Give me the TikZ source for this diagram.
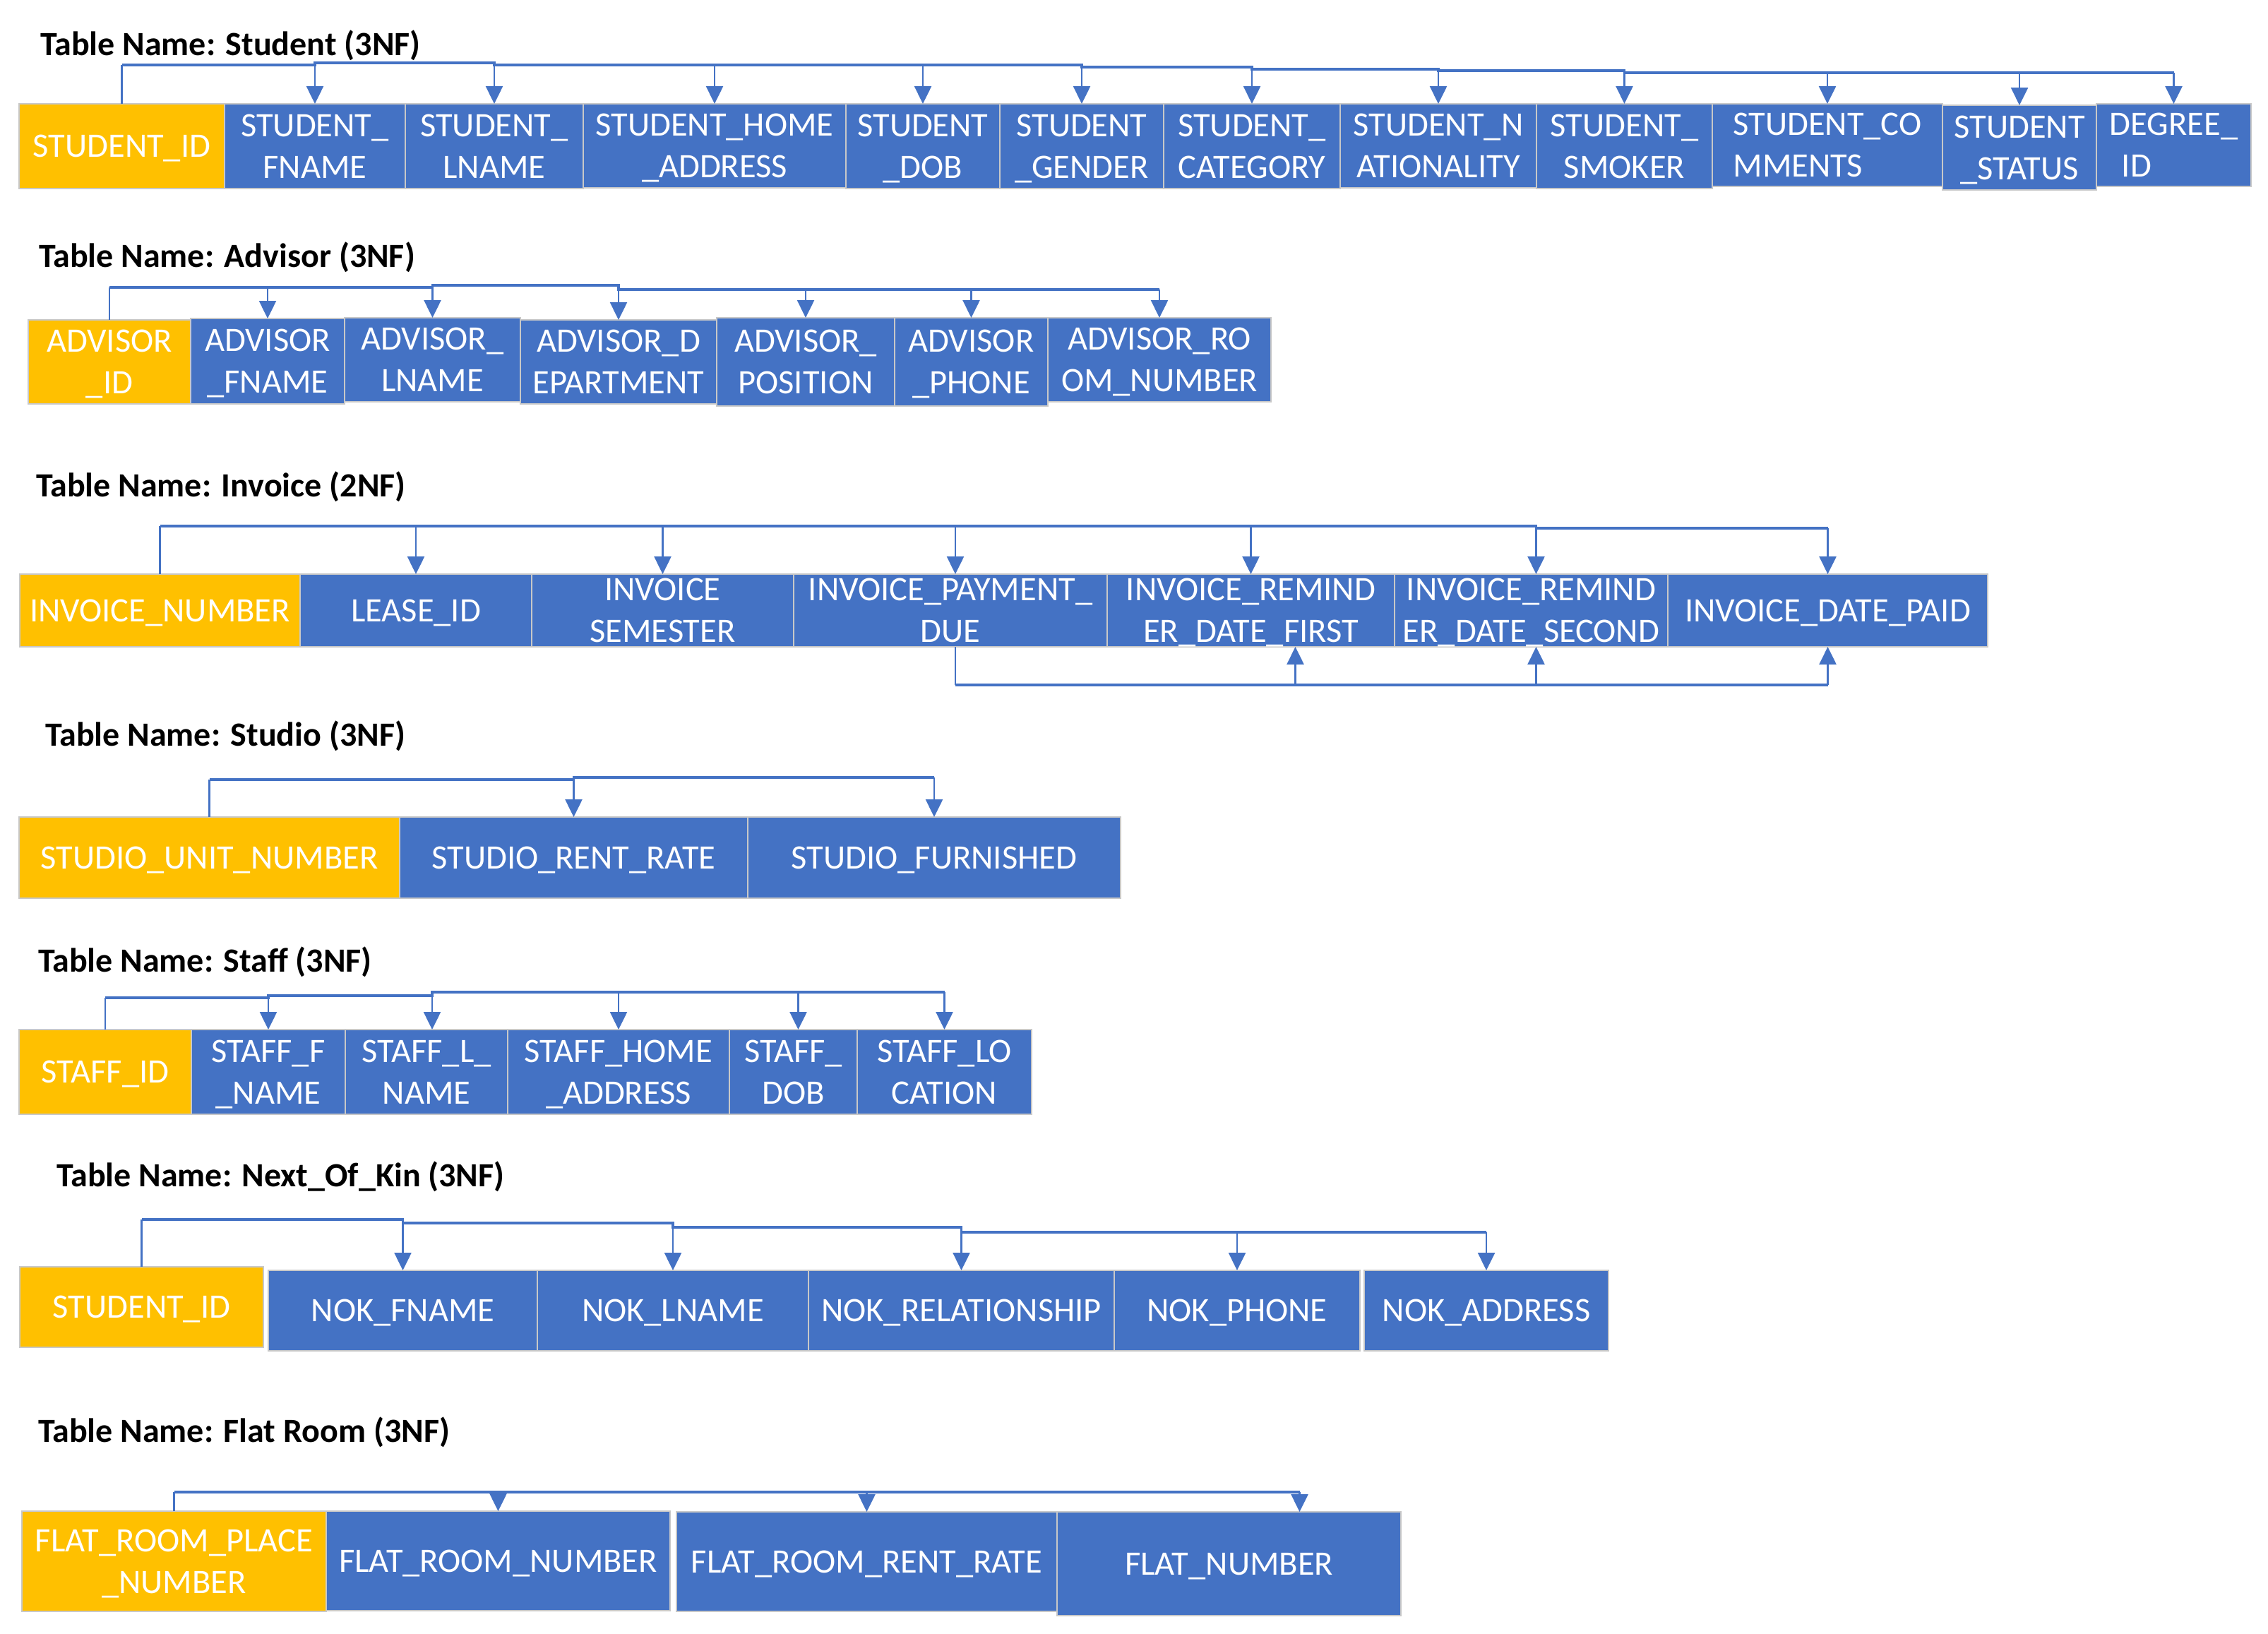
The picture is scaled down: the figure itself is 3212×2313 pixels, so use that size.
\documentclass[tikz,border=0pt]{standalone}
\usepackage{fontspec}
\setmainfont{Carlito}
\usetikzlibrary{arrows.meta}

\definecolor{keyfill}{HTML}{FFC000}
\definecolor{attrfill}{HTML}{4472C4}
\definecolor{cellrule}{HTML}{C8C8C8}
\definecolor{linkcol}{HTML}{4472C4}

\newcommand\tblCellFont{\fontsize{48.5}{59}\selectfont}
\newcommand\tblTitleFont{\fontsize{48}{58}\selectfont\bfseries}

% \cell{name}{style}{x1}{y1}{x2}{y2}{text}: a table cell given by its corners
\newcommand\cell[7]{%
  \node[#2, minimum width={(#5-#3)*1pt}, minimum height={(#6-#4)*1pt},
        anchor=north west] (#1) at (#3,#4) {#7};}

\begin{document}
\begin{tikzpicture}[x=1pt, y=-1pt,
  cellbase/.style={draw=cellrule, line width=2pt, inner sep=0pt, outer sep=0pt,
                   text=white, font=\tblCellFont, align=center, text depth=0pt},
  keycell/.style={cellbase, fill=keyfill},
  attrcell/.style={cellbase, fill=attrfill},
  tbltitle/.style={anchor=base west, inner sep=0pt, font=\tblTitleFont},
  bus/.style={draw=linkcol, line width=3.5pt},
  stem/.style={draw=linkcol, line width=2.5pt},
  drop/.style={draw=linkcol, line width=2.5pt, -{Triangle[width=24pt,length=25pt]}}]

\fill[white] (0,0) rectangle (3212,2313);
\useasboundingbox (0,0) rectangle (3212,2313);

% ---------------- Student ----------------
\node[tbltitle] (tStudent) at (57,78) {Table Name: Student (3NF)};
\cell{sid}{keycell}{27}{147}{318}{267}{STUDENT\_ID}
\cell{sfn}{attrcell}{318}{147}{574}{267}{STUDENT\_\\FNAME}
\cell{sln}{attrcell}{574}{147}{826}{267}{STUDENT\_\\LNAME}
\cell{sha}{attrcell}{826}{147}{1198}{266}{STUDENT\_HOME\\\_ADDRESS}
\cell{sdob}{attrcell}{1198}{147}{1416}{267}{STUDENT\\\_DOB}
\cell{sgen}{attrcell}{1416}{147}{1648}{267}{STUDENT\\\_GENDER}
\cell{scat}{attrcell}{1648}{147}{1898}{267}{STUDENT\_\\CATEGORY}
\cell{snat}{attrcell}{1898}{147}{2176}{266}{STUDENT\_N\\ATIONALITY}
\cell{ssmk}{attrcell}{2176}{147}{2425}{267}{STUDENT\_\\SMOKER}
\cell{scom}{attrcell,align=left}{2425}{147}{2751}{264}{STUDENT\_CO\\MMENTS}
\cell{ssta}{attrcell}{2751}{149}{2969}{269}{STUDENT\\\_STATUS}
\cell{sdeg}{attrcell,align=left}{2969}{147}{3188}{264}{DEGREE\_\\\hspace*{0.35em}ID}

\coordinate (sL0) at (0,92);
\coordinate (sL1) at (0,89);
\coordinate (sL2) at (0,95);
\coordinate (sL3) at (0,98);
\coordinate (sL4) at (0,100);
\coordinate (sL5) at (0,103);
\draw[stem] (sid.north) -- (sid.north |- sL0);
\draw[bus] (sid.north |- sL0) -- (sfn.north |- sL0) -- (sfn.north |- sL1)
  -- (sln.north |- sL1) -- (sln.north |- sL0) -- (sgen.north |- sL0)
  -- (sgen.north |- sL2) -- (scat.north |- sL2) -- (scat.north |- sL3)
  -- (snat.north |- sL3) -- (snat.north |- sL4) -- (ssmk.north |- sL4)
  -- (ssmk.north |- sL5) -- (sdeg.north |- sL5);
\draw[drop] (sfn.north |- sL1) -- (sfn.north);
\draw[drop] (sln.north |- sL1) -- (sln.north);
\draw[drop] (sha.north |- sL0) -- (sha.north);
\draw[drop] (sdob.north |- sL0) -- (sdob.north);
\draw[drop] (sgen.north |- sL2) -- (sgen.north);
\draw[drop] (scat.north |- sL3) -- (scat.north);
\draw[drop] (snat.north |- sL4) -- (snat.north);
\draw[drop] (ssmk.north |- sL5) -- (ssmk.north);
\draw[drop] (scom.north |- sL5) -- (scom.north);
\draw[drop] (ssta.north |- sL5) -- (ssta.north);
\draw[drop] (sdeg.north |- sL5) -- (sdeg.north);

% ---------------- Advisor ----------------
\node[tbltitle] (tAdvisor) at (55,378) {Table Name: Advisor (3NF)};
\cell{aid}{keycell}{40}{453}{270}{572}{ADVISOR\\\_ID}
\cell{afn}{attrcell}{270}{451}{488}{572}{ADVISOR\\\_FNAME}
\cell{aln}{attrcell}{488}{450}{737}{569}{ADVISOR\_\\LNAME}
\cell{adep}{attrcell}{737}{453}{1015}{572}{ADVISOR\_D\\EPARTMENT}
\cell{apos}{attrcell}{1015}{450}{1267}{575}{ADVISOR\_\\POSITION}
\cell{aph}{attrcell}{1267}{450}{1484}{575}{ADVISOR\\\_PHONE}
\cell{arm}{attrcell}{1484}{450}{1800}{569}{ADVISOR\_RO\\OM\_NUMBER}

\coordinate (aL0) at (0,407);
\coordinate (aL1) at (0,404);
\coordinate (aL2) at (0,410);
\draw[stem] (aid.north) -- (aid.north |- aL0);
\draw[bus] (aid.north |- aL0) -- (aln.north |- aL0) -- (aln.north |- aL1)
  -- (adep.north |- aL1) -- (adep.north |- aL2) -- (arm.north |- aL2);
\draw[drop] (afn.north |- aL0) -- (afn.north);
\draw[drop] (aln.north |- aL1) -- (aln.north);
\draw[drop] (adep.north |- aL2) -- (adep.north);
\draw[drop] (apos.north |- aL2) -- (apos.north);
\draw[drop] (aph.north |- aL2) -- (aph.north);
\draw[drop] (arm.north |- aL2) -- (arm.north);

% ---------------- Invoice ----------------
\node[tbltitle] (tInvoice) at (51,703) {Table Name: Invoice (2NF)};
\cell{inum}{keycell}{28}{813}{425}{916}{INVOICE\_NUMBER}
\cell{ils}{attrcell}{425}{813}{753}{916}{LEASE\_ID}
\cell{isem}{attrcell}{753}{813}{1124}{916}{INVOICE\\SEMESTER}
\cell{idue}{attrcell}{1124}{813}{1568}{916}{INVOICE\_PAYMENT\_\\DUE}
\cell{ifst}{attrcell}{1568}{813}{1975}{916}{INVOICE\_REMIND\\ER\_DATE\_FIRST}
\cell{isec}{attrcell}{1975}{813}{2362}{916}{INVOICE\_REMIND\\ER\_DATE\_SECOND}
\cell{ipd}{attrcell}{2362}{813}{2815}{916}{INVOICE\_DATE\_PAID}

\coordinate (iL0) at (0,745);
\coordinate (iL1) at (0,748);
\coordinate (iLb) at (0,970);
\coordinate (idueT) at ([xshift=7pt]idue.north);
\coordinate (idueB) at ([xshift=7pt]idue.south);
\coordinate (isecT) at ([xshift=7pt]isec.north);
\coordinate (isecB) at ([xshift=7pt]isec.south);
\coordinate (ifstB) at ([xshift=63pt]ifst.south);
\draw[stem] (inum.north) -- (inum.north |- iL0);
\draw[bus] (inum.north |- iL0) -- (isecT |- iL0) -- (isecT |- iL1) -- (ipd.north |- iL1);
\draw[drop] (ils.north |- iL0) -- (ils.north);
\draw[drop] (isem.north |- iL0) -- (isem.north);
\draw[drop] (idueT |- iL0) -- (idueT);
\draw[drop] (ifst.north |- iL0) -- (ifst.north);
\draw[drop] (isecT |- iL1) -- (isecT);
\draw[drop] (ipd.north |- iL1) -- (ipd.north);
% dependencies on the payment due date
\draw[stem] (idueB) -- (idueB |- iLb);
\draw[bus] (idueB |- iLb) -- (ipd.south |- iLb);
\draw[drop] (ifstB |- iLb) -- (ifstB);
\draw[drop] (isecB |- iLb) -- (isecB);
\draw[drop] (ipd.south |- iLb) -- (ipd.south);

% ---------------- Studio ----------------
\node[tbltitle] (tStudio) at (64,1056) {Table Name: Studio (3NF)};
\cell{tun}{keycell}{27}{1157}{566}{1272}{STUDIO\_UNIT\_NUMBER}
\cell{trr}{attrcell}{566}{1157}{1059}{1272}{STUDIO\_RENT\_RATE}
\cell{tfu}{attrcell}{1059}{1157}{1587}{1272}{STUDIO\_FURNISHED}

\coordinate (tL0) at (0,1104);
\coordinate (tL1) at (0,1101);
\draw[stem] (tun.north) -- (tun.north |- tL0);
\draw[bus] (tun.north |- tL0) -- (trr.north |- tL0) -- (trr.north |- tL1) -- (tfu.north |- tL1);
\draw[drop] (trr.north |- tL1) -- (trr.north);
\draw[drop] (tfu.north |- tL1) -- (tfu.north);

% ---------------- Staff ----------------
\node[tbltitle] (tStaff) at (54,1376) {Table Name: Staff (3NF)};
\cell{fid}{keycell}{27}{1458}{271}{1578}{STAFF\_ID}
\cell{ffn}{attrcell}{271}{1458}{489}{1578}{STAFF\_F\\\_NAME}
\cell{fln}{attrcell}{489}{1458}{719}{1578}{STAFF\_L\_\\NAME}
\cell{fha}{attrcell}{719}{1458}{1033}{1578}{STAFF\_HOME\\\_ADDRESS}
\cell{fdob}{attrcell}{1033}{1458}{1214}{1578}{STAFF\_\\DOB}
\cell{floc}{attrcell}{1214}{1458}{1461}{1578}{STAFF\_LO\\CATION}

\coordinate (fL0) at (0,1413);
\coordinate (fL1) at (0,1410);
\coordinate (fL2) at (0,1405);
\coordinate (flnT) at ([xshift=8pt]fln.north);
\coordinate (fdobT) at ([xshift=7pt]fdob.north);
\draw[stem] (fid.north) -- (fid.north |- fL0);
\draw[bus] (fid.north |- fL0) -- (ffn.north |- fL0) -- (ffn.north |- fL1)
  -- (flnT |- fL1) -- (flnT |- fL2) -- (floc.north |- fL2);
\draw[drop] (ffn.north |- fL1) -- (ffn.north);
\draw[drop] (flnT |- fL2) -- (flnT);
\draw[drop] (fha.north |- fL2) -- (fha.north);
\draw[drop] (fdobT |- fL2) -- (fdobT);
\draw[drop] (floc.north |- fL2) -- (floc.north);

% ---------------- Next_Of_Kin ----------------
\node[tbltitle] (tNok) at (80,1680) {Table Name: Next\_Of\_Kin (3NF)};
\cell{nid}{keycell}{28}{1794}{373}{1908}{STUDENT\_ID}
\cell{nfn}{attrcell}{380}{1799}{761}{1913}{NOK\_FNAME}
\cell{nln}{attrcell}{761}{1799}{1145}{1913}{NOK\_LNAME}
\cell{nrel}{attrcell}{1145}{1799}{1578}{1913}{NOK\_RELATIONSHIP}
\cell{nph}{attrcell}{1578}{1799}{1926}{1913}{NOK\_PHONE}
\cell{nadr}{attrcell}{1932}{1799}{2278}{1913}{NOK\_ADDRESS}

\coordinate (nL0) at (0,1727);
\coordinate (nL1) at (0,1732);
\coordinate (nL2) at (0,1738);
\coordinate (nL3) at (0,1745);
\draw[stem] (nid.north) -- (nid.north |- nL0);
\draw[bus] (nid.north |- nL0) -- (nfn.north |- nL0) -- (nfn.north |- nL1)
  -- (nln.north |- nL1) -- (nln.north |- nL2) -- (nrel.north |- nL2)
  -- (nrel.north |- nL3) -- (nadr.north |- nL3);
\draw[drop] (nfn.north |- nL1) -- (nfn.north);
\draw[drop] (nln.north |- nL2) -- (nln.north);
\draw[drop] (nrel.north |- nL3) -- (nrel.north);
\draw[drop] (nph.north |- nL3) -- (nph.north);
\draw[drop] (nadr.north |- nL3) -- (nadr.north);

% ---------------- Flat Room ----------------
\node[tbltitle] (tFlat) at (54,2042) {Table Name: Flat Room (3NF)};
\cell{rpl}{keycell}{31}{2140}{462}{2282}{FLAT\_ROOM\_PLACE\\\_NUMBER}
\cell{rnum}{attrcell}{462}{2140}{949}{2281}{FLAT\_ROOM\_NUMBER}
\cell{rrate}{attrcell}{958}{2141}{1497}{2282}{FLAT\_ROOM\_RENT\_RATE}
\cell{rflat}{attrcell}{1497}{2141}{1984}{2288}{FLAT\_NUMBER}

\coordinate (rL0) at (0,2113);
\coordinate (rflatT) at ([xshift=100pt]rflat.north);
\draw[stem] (rpl.north) -- (rpl.north |- rL0);
\draw[bus] (rpl.north |- rL0) -- (rflatT |- rL0);
\draw[drop] (rnum.north |- rL0) -- (rnum.north);
\draw[drop] (rrate.north |- rL0) -- (rrate.north);
\draw[drop] (rflatT |- rL0) -- (rflatT);

\end{tikzpicture}
\end{document}
